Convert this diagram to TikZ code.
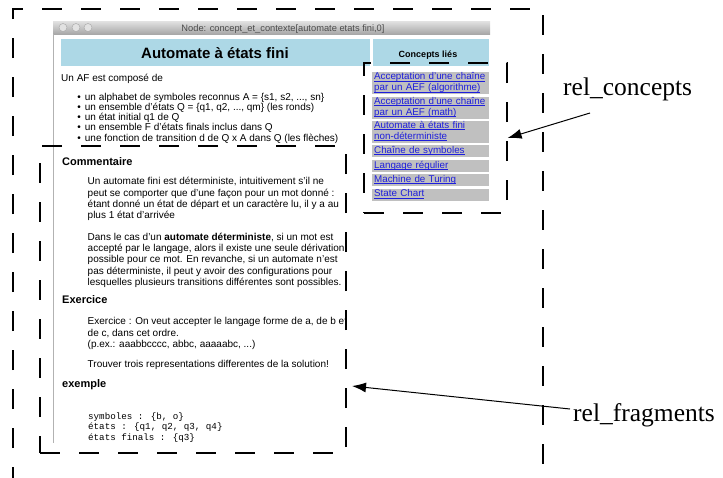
\documentclass[tikz,border=0pt]{standalone}
\usepackage{xcolor}
\usepackage{fontspec}
\setmainfont{Liberation Sans}
\newfontfamily\serffont{Liberation Serif}
\newfontfamily\codefont{Liberation Mono}
\usepackage{tikz}
\usetikzlibrary{calc}
\usetikzlibrary{arrows}
\usetikzlibrary{arrows.meta}
\usetikzlibrary{shapes}
\usetikzlibrary{positioning}
\tikzset{>=latex}

\definecolor{hdblue}{RGB}{173,216,230}
\definecolor{lnkgray}{RGB}{192,192,192}
\definecolor{lnkblue}{RGB}{30,30,220}
\definecolor{barlight}{RGB}{226,226,226}
\definecolor{bardark}{RGB}{168,168,168}

\newsavebox{\lnkbox}
\newcommand{\lnkul}[1]{\strut\sbox{\lnkbox}{#1}\rlap{\rule[-1.2pt]{\wd\lnkbox}{0.5pt}}\usebox{\lnkbox}}

\tikzstyle{frag} = [draw=black, line width=1.2pt, dash pattern=on 20pt off 19pt, inner sep=0pt]
\tikzstyle{txt} = [anchor=north west, inner sep=0pt, align=left, font=\fontsize{10}{11.3}\selectfont, execute at begin node=\strut]
\tikzstyle{hd} = [anchor=base west, inner sep=0pt, font=\bfseries\fontsize{11}{13}\selectfont]
\tikzstyle{lnk} = [anchor=north west, fill=lnkgray, text=lnkblue, text width=113pt, inner xsep=2pt, inner ysep=0pt, align=left, font=\fontsize{9.8}{11}\selectfont]
\tikzstyle{lbl} = [anchor=base west, inner sep=0pt, font=\serffont\fontsize{25.5}{30}\selectfont]

\begin{document}
\begin{tikzpicture}[x=1pt, y=-1pt]
\useasboundingbox (0,0) rectangle (723,477);
\clip (0,0) rectangle (723,477);

% window title bar
\shade [top color=barlight, bottom color=bardark] (53,21) rectangle (490,34);
\foreach \cx in {63,76,88}
  \draw [fill=barlight, draw=black!35] (\cx,27.5) circle (4pt);
\node [anchor=base, inner sep=0pt, text=black!70, font=\fontsize{9.3}{11}\selectfont] (bar) at (283,31) {Node: concept\_et\_contexte[automate etats fini,0]};
\draw [black!30] (53.5,34) -- (53.5,443);

% headers
\fill [hdblue] (61,39) rectangle (370,66);
\fill [hdblue] (372.5,39) rectangle (489,66);
\node [anchor=base, inner sep=0pt, font=\bfseries\fontsize{15}{18}\selectfont] (ttl) at (215,58) {Automate à états fini};
\node [anchor=base, inner sep=0pt, font=\bfseries\fontsize{9}{10}\selectfont] (cl) at (428,57) {Concepts liés};

% left column
\node [txt] (intro) at (61,73.1) {Un AF est composé de};
\node [txt, font=\fontsize{10}{10.2}\selectfont] (items) at (77.2,92.9) {%
\makebox[7.5pt][l]{\textbullet}un alphabet de symboles reconnus A = \{s1, s2, ..., sn\}\\
\makebox[7.5pt][l]{\textbullet}un ensemble d'états Q = \{q1, q2, ..., qm\} (les ronds)\\
\makebox[7.5pt][l]{\textbullet}un état initial q1 de Q\\
\makebox[7.5pt][l]{\textbullet}un ensemble F d'états finals inclus dans Q\\
\makebox[7.5pt][l]{\textbullet}une fonction de transition d de Q x A dans Q (les flèches)};

\node [hd] (com) at (62,165.5) {Commentaire};
\node [txt] (p1) at (87.5,177.4) {%
Un automate fini est déterministe, intuitivement s'il ne\\
peut se comporter que d'une façon pour un mot donné :\\
étant donné un état de départ et un caractère lu, il y a au\\
plus 1 état d'arrivée};
\node [txt] (p2) at (87.5,232.6) {%
Dans le cas d'un \textbf{automate déterministe}, si un mot est\\
accepté par le langage, alors il existe une seule dérivation\\
possible pour ce mot. En revanche, si un automate n'est\\
pas déterministe, il peut y avoir des configurations pour\\
lesquelles plusieurs transitions différentes sont possibles.};

\node [hd] (exo) at (62,303.5) {Exercice};
\node [txt] (p3) at (87.5,317.4) {%
Exercice : On veut accepter le langage forme de a, de b et\\
de c, dans cet ordre.\\
(p.ex.: aaabbcccc, abbc, aaaaabc, ...)};
\node [txt] (p4) at (87.5,359.1) {Trouver trois representations differentes de la solution!};

\node [hd] (ex) at (62,387.5) {exemple};
\node [txt, font=\codefont\fontsize{9.2}{10.5}\selectfont] (code) at (88,412.2) {%
symboles : \{b, o\}\\
états : \{q1, q2, q3, q4\}\\
états finals : \{q3\}};

% right column
\node [lnk, minimum height=22pt] (l1) at (372,72) {\lnkul{Acceptation d'une chaîne}\\\lnkul{par un AEF (algorithme)}};
\node [lnk, minimum height=22pt, below=2pt of l1] (l2) {\lnkul{Acceptation d'une chaîne}\\\lnkul{par un AEF (math)}};
\node [lnk, minimum height=22pt, below=2pt of l2] (l3) {\lnkul{Automate à états fini}\\\lnkul{non-déterministe}};
\node [lnk, minimum height=12pt, below=2pt of l3] (l4) {\lnkul{Chaîne de symboles}};
\node [lnk, minimum height=12pt, below=2pt of l4] (l5) {\lnkul{Langage régulier}};
\node [lnk, minimum height=12pt, below=2pt of l5] (l6) {\lnkul{Machine de Turing}};
\node [lnk, minimum height=12pt, below=2pt of l6] (l7) {\lnkul{State Chart}};

% dashed regions
\node [frag, minimum width=143pt, minimum height=150pt] (rcbox) at (435.5,138) {};
\node [frag, minimum width=306pt, minimum height=307pt] (rfbox) at (193,299.5) {};
\draw [frag, dash phase=26pt] (13,500) -- (13,9) -- (543,9) -- (543,500);

% labels
\node [lbl] (rc) at (563,95) {rel\_concepts};
\node [lbl] (rf) at (573,421) {rel\_fragments};
\coordinate (rctail) at (590,113);
\coordinate (rftail) at (570,409);
\coordinate (rftip) at (352,386);
\draw [-{Latex[length=14pt, width=10pt]}, line width=1pt] (rctail) to (rcbox.east);
\draw [-{Latex[length=14pt, width=10pt]}, line width=1pt] (rftail) to (rftip);
\end{tikzpicture}
\end{document}
